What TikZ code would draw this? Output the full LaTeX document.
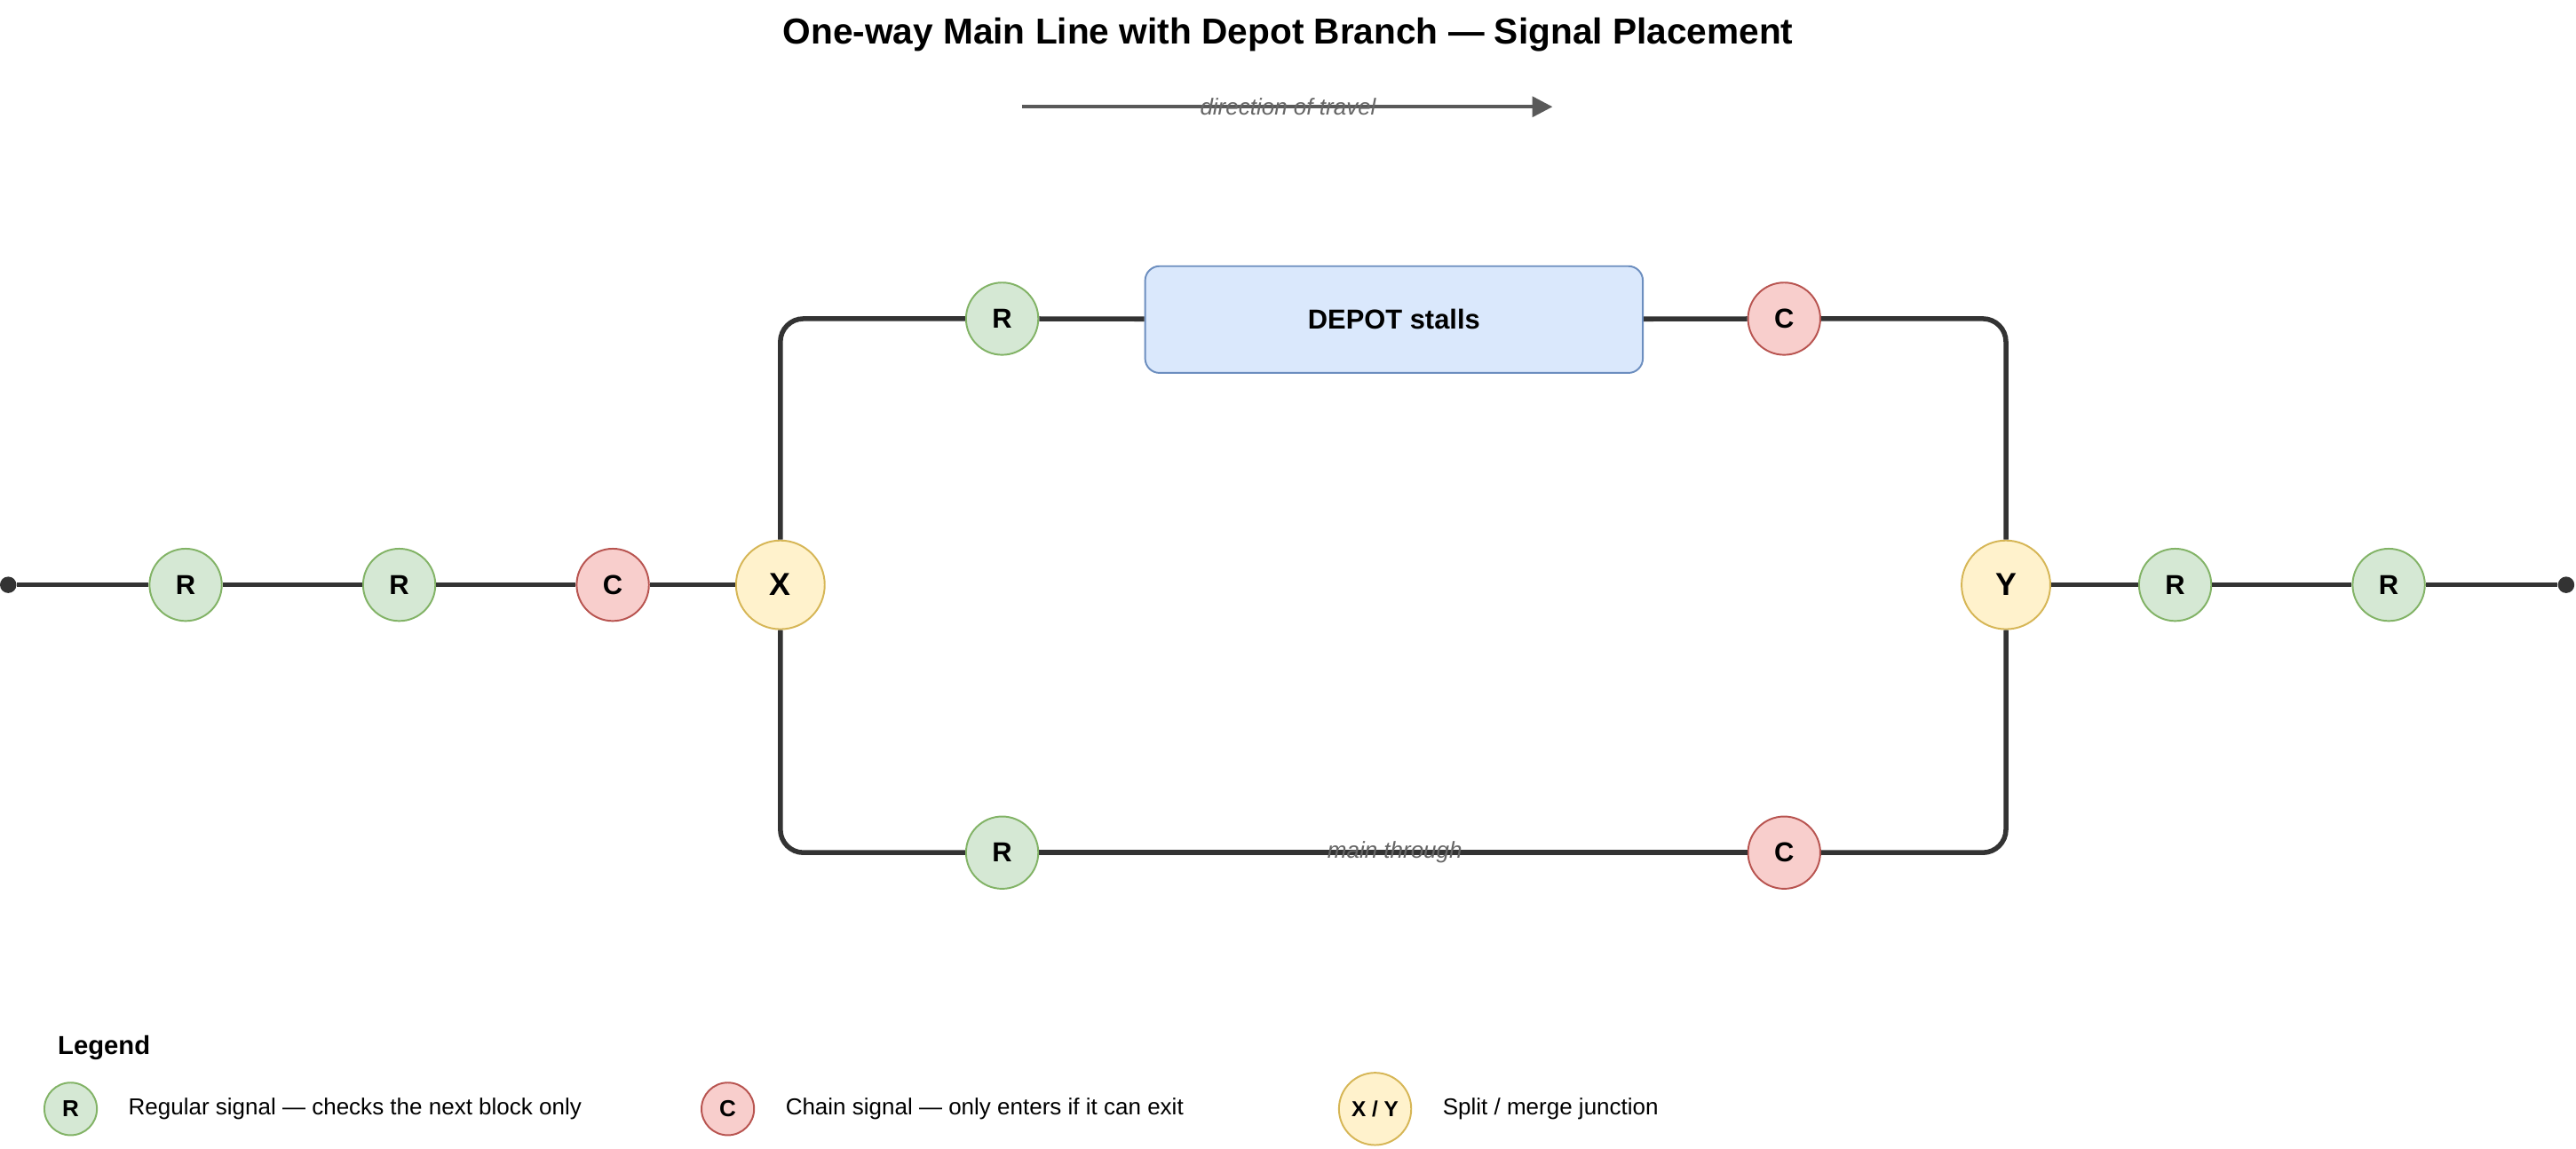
\documentclass[tikz,border=0pt]{standalone}
\usepackage{fontspec}
\setmainfont{Liberation Sans}
\usetikzlibrary{positioning, arrows.meta, calc}
\definecolor{regfill}{HTML}{D5E8D4}\definecolor{regdraw}{HTML}{82B366}
\definecolor{chfill}{HTML}{F8CECC}\definecolor{chdraw}{HTML}{B85450}
\definecolor{jfill}{HTML}{FFF2CC}\definecolor{jdraw}{HTML}{D6B656}
\definecolor{dfill}{HTML}{DAE8FC}\definecolor{ddraw}{HTML}{6C8EBF}
\definecolor{track}{HTML}{333333}
\begin{document}
\begin{tikzpicture}[
    x=0.02cm, y=-0.02cm,
    track/.style={draw=track, line width=1.7pt, rounded corners=8pt},
    regular/.style={circle, draw=regdraw, fill=regfill, line width=0.6pt,
        minimum size=0.88cm, inner sep=0pt, font=\fontsize{9.5}{11}\selectfont\bfseries},
    chain/.style={regular, draw=chdraw, fill=chfill},
    junction/.style={regular, draw=jdraw, fill=jfill, minimum size=1.08cm,
        font=\fontsize{11}{13}\selectfont\bfseries},
    depot/.style={rectangle, draw=ddraw, fill=dfill, line width=0.6pt,
        rounded corners=5pt, minimum width=6.06cm, minimum height=1.3cm,
        font=\fontsize{9.5}{11}\selectfont\bfseries},
    endpoint/.style={circle, fill=track, minimum size=0.2cm, inner sep=0pt},
    tracklabel/.style={font=\fontsize{8}{10}\selectfont\itshape, text=black!60},
    legendtext/.style={font=\fontsize{8}{10}\selectfont, anchor=west}
]
    \useasboundingbox (0,0) rectangle (1568,699);
    % Title and direction
    \node[font=\fontsize{12.5}{15}\selectfont\bfseries] (title) at (784,21)
        {One-way Main Line with Depot Branch — Signal Placement};
    \coordinate (dirstart) at (622,65);
    \coordinate (dirend) at (945,65);
    \draw[-{Triangle[length=7pt,width=7pt]}, draw=black!65, line width=1.2pt] (dirstart) -- (dirend);
    \node[tracklabel] (dirlabel) at (784,65) {direction of travel};

    % Main line
    \node[endpoint] (west) at (5,356) {};
    \node[regular] (r1) at (113,356) {R};
    \node[regular] (r2) at (243,356) {R};
    \node[chain] (c1) at (373,356) {C};
    \node[junction] (x) at (475,356) {X};
    \node[junction] (y) at (1221,356) {Y};
    \node[regular] (r3) at (1324,356) {R};
    \node[regular] (r4) at (1454,356) {R};
    \node[endpoint] (east) at (1562,356) {};

    % Depot branch
    \node[regular] (rd) at (610,194) {R};
    \node[depot] (depot) at (848.5,194.5) {DEPOT stalls};
    \node[chain] (cd) at (1086,194) {C};

    % Through branch
    \node[regular] (rt) at (610,519) {R};
    \node[chain] (ct) at (1086,519) {C};

    \draw[track] (west) -- (r1) (r1) -- (r2) (r2) -- (c1) (c1) -- (x);
    \draw[track] (y) -- (r3) (r3) -- (r4) (r4) -- (east);
    \draw[track] (x) |- (rd);
    \draw[track] (rd) -- (depot) (depot) -- (cd);
    \draw[track] (cd) -| (y);
    \draw[track] (x) |- (rt);
    \draw[track] (rt) -- (ct);
    \draw[track] (ct) -| (y);
    \node[tracklabel] (thru) at (849,519) {main through};

    % Legend
    \node[font=\fontsize{9}{11}\selectfont\bfseries, anchor=west] (legend) at (29,638) {Legend};
    \node[regular, minimum size=0.64cm, font=\fontsize{8}{10}\selectfont\bfseries] (lr) at (43,675) {R};
    \node[legendtext] at (72,675) {Regular signal — checks the next block only};
    \node[chain, minimum size=0.64cm, font=\fontsize{8}{10}\selectfont\bfseries] (lc) at (443,675) {C};
    \node[legendtext] at (472,675) {Chain signal — only enters if it can exit};
    \node[junction, minimum size=0.88cm, font=\fontsize{7.5}{9}\selectfont\bfseries] (lj) at (837,675) {X / Y};
    \node[legendtext] at (872,675) {Split / merge junction};
\end{tikzpicture}
\end{document}
